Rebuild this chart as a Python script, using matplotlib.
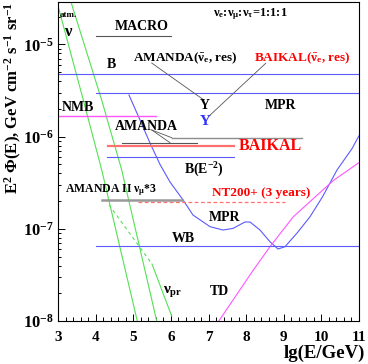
import matplotlib
matplotlib.use("Agg")
import matplotlib.pyplot as plt
from matplotlib.ticker import MultipleLocator, LogLocator, NullFormatter

plt.rcParams['font.family'] = ['Liberation Serif', 'DejaVu Serif']
plt.rcParams['font.weight'] = 'bold'
plt.rcParams['mathtext.fontset'] = 'custom'
plt.rcParams['mathtext.rm'] = 'Liberation Serif:bold'
plt.rcParams['mathtext.it'] = 'Liberation Serif:italic:bold'
plt.rcParams['mathtext.bf'] = 'Liberation Serif:bold'
plt.rcParams['mathtext.sf'] = 'Liberation Serif:bold'
plt.rcParams['mathtext.default'] = 'rm'

# atmospheric neutrinos (two bounds) and prompt
atm1_x = [3.00, 3.666, 4.156, 5.103]
atm1_y = [2.56e-5, 2.49e-6, 4.35e-7, 1.0e-8]
atm2_x = [3.338, 4.155, 4.688, 5.620]
atm2_y = [2.88e-5, 2.49e-6, 4.35e-7, 1.0e-8]
prompt_dash_x = [4.35, 5.494]
prompt_dash_y = [1.82e-7, 4.15e-8]
prompt_x = [5.494, 6.019]
prompt_y = [4.15e-8, 1.13e-8]

# MPR model
mpr_x = [4.882, 5.175, 5.441, 5.708, 5.974, 6.320, 6.586, 7.039, 7.385, 7.651, 7.970,
         8.104, 8.370, 8.636, 8.849, 9.036, 9.355, 9.701, 10.03, 10.42, 10.82, 11.0]
mpr_y = [2.825e-6, 1.514e-6, 8.53e-7, 4.99e-7, 3.22e-7, 2.06e-7, 1.41e-7, 1.055e-7, 9.70e-8,
         1.01e-7, 1.186e-7, 1.186e-7, 9.70e-8, 7.24e-8, 6.04e-8, 6.40e-8, 8.99e-8, 1.352e-7,
         2.21e-7, 4.345e-7, 7.41e-7, 1.014e-6]

# TD model
td_x = [7.273, 8.192, 8.636, 9.257, 9.746, 10.322, 11.0]
td_y = [1.0e-8, 3.57e-8, 6.40e-8, 1.352e-7, 2.05e-7, 3.34e-7, 5.21e-7]

# horizontal limits / bounds: (x from, x to), flux
macro_x, macro_y = [4.0, 6.0], 1.23e-5
b_x, b_y = [3.0, 11.0], 4.78e-6
mprb_x, mprb_y = [4.0, 11.0], 2.95e-6
nmb_x, nmb_y = [3.0, 5.6], 1.67e-6
amanda_hi_x, amanda_hi_y = [6.02, 9.49], 9.77e-7
amanda_lo_x, amanda_lo_y = [4.69, 6.685], 8.59e-7
baikal_x, baikal_y = [4.33, 7.68], 7.96e-7
be2_x, be2_y = [4.29, 7.68], 6.01e-7
amanda2_x, amanda2_y = [4.16, 6.29], 2.04e-7
nt200_x, nt200_y = [5.13, 9.04], 1.95e-7
wb_x, wb_y = [4.0, 11.0], 6.5e-8

green = '#55e055'
blue = '#5a5aff'
magenta = '#ff55ff'
gray = '#8c8c8c'
red = '#ff0000'

fig = plt.figure(figsize=(3.68, 3.64), dpi=100)
ax = fig.add_axes([0.1584, 0.1181, 0.8166, 0.8764])
ax.set_yscale('log')

ax.plot(atm1_x, atm1_y, color=green, lw=0.8)
ax.plot(atm2_x, atm2_y, color=green, lw=0.8)
ax.plot(prompt_dash_x, prompt_dash_y, color=green, lw=0.8, ls=(0, (3, 3)))
ax.plot(prompt_x, prompt_y, color=green, lw=0.8)

ax.plot(mpr_x, mpr_y, color=blue, lw=0.8)
ax.plot(td_x, td_y, color=magenta, lw=0.8)

ax.plot(macro_x, [macro_y] * 2, color='#555555', lw=0.8)
ax.plot(b_x, [b_y] * 2, color=blue, lw=0.8)
ax.plot(mprb_x, [mprb_y] * 2, color=blue, lw=0.8)
ax.plot(nmb_x, [nmb_y] * 2, color=magenta, lw=1.0)
ax.plot(amanda_hi_x, [amanda_hi_y] * 2, color=gray, lw=1.0)
ax.plot(amanda_lo_x, [amanda_lo_y] * 2, color='#555555', lw=0.8)
ax.plot(baikal_x, [baikal_y] * 2, color='#ff7070', lw=1.6)
ax.plot(be2_x, [be2_y] * 2, color=blue, lw=0.8)
ax.plot(amanda2_x, [amanda2_y] * 2, color='#999999', lw=1.8)
ax.plot(nt200_x, [nt200_y] * 2, color='#ff7070', lw=0.9, ls=(0, (3, 2)))
ax.plot(wb_x, [wb_y] * 2, color=blue, lw=0.8)

# pointer lines
ax.plot([5.487, 6.879], [6.28e-6, 2.49e-6], color='#555555', lw=0.6)
ax.plot([8.522, 7.012], [6.24e-6, 1.67e-6], color='#555555', lw=0.6)
ax.plot([5.487, 6.019], [1.18e-6, 9.73e-7], color='#555555', lw=0.6)
ax.plot([5.487, 5.974], [1.18e-6, 8.59e-7], color='#555555', lw=0.6)

# labels
ax.text(3.045, 2.11e-5, 'atm.', fontsize=6.5, va='center', ha='left')
ax.text(3.285, 1.36e-5, r'$\nu$', fontsize=12, va='center', ha='center')
ax.text(5.215, 1.55e-5, 'MACRO', fontsize=10, va='center', ha='center')
ax.text(8.10, 2.14e-5, r'$\nu_e$:$\nu_\mu$:$\nu_\tau$=1:1:1', fontsize=9, va='center', ha='center')
ax.text(4.403, 6.12e-6, 'B', fontsize=10, va='center', ha='center')
ax.text(4.99, 7.13e-6, r'AMANDA($\bar{\nu}_e$, res)', fontsize=9.5, va='center', ha='left')
ax.text(8.21, 7.13e-6, r'BAIKAL($\bar{\nu}_e$, res)', fontsize=9.5, va='center', ha='left',
        color=red)
ax.text(3.524, 2.07e-6, 'NMB', fontsize=10, va='center', ha='center')
ax.text(5.338, 1.30e-6, 'AMANDA', fontsize=10, va='center', ha='center')
ax.text(6.906, 2.20e-6, 'Y', fontsize=10, va='center', ha='center')
ax.text(6.919, 1.47e-6, 'Y', fontsize=11, va='center', ha='center', color='#3030ff')
ax.text(8.93, 2.20e-6, 'MPR', fontsize=10, va='center', ha='center')
ax.text(7.81, 7.91e-7, 'BAIKAL', fontsize=11.5, va='center', ha='left', color=red)
ax.text(6.352, 4.35e-7, r'B(E$^{-2}$)', fontsize=10, va='center', ha='left')
ax.text(3.18, 2.64e-7, r'AMANDA II $\nu_\mu$*3', fontsize=8.5, va='center', ha='left')
ax.text(8.41, 2.44e-7, 'NT200+ (3 years)', fontsize=9.5, va='center', ha='center', color=red)
ax.text(7.417, 1.31e-7, 'MPR', fontsize=10, va='center', ha='center')
ax.text(6.32, 7.85e-8, 'WB', fontsize=10, va='center', ha='center')
ax.text(6.04, 2.11e-8, r'$\nu_{pr}$', fontsize=11, va='center', ha='center')
ax.text(7.279, 2.11e-8, 'TD', fontsize=10, va='center', ha='center')

ax.set_xlim(3, 11)
ax.set_ylim(1e-8, 10 ** -4.54)
ax.xaxis.set_major_locator(MultipleLocator(1))
ax.xaxis.set_minor_locator(MultipleLocator(0.2))
ax.yaxis.set_major_locator(LogLocator(base=10, numticks=10))
ax.yaxis.set_minor_locator(LogLocator(base=10, subs=range(2, 10), numticks=20))
ax.yaxis.set_minor_formatter(NullFormatter())
ax.tick_params(which='both', direction='in', top=False, right=False, width=0.7)
ax.tick_params(axis='x', which='major', length=5, pad=7, labelsize=11)
ax.tick_params(axis='x', which='minor', length=3)
ax.tick_params(axis='y', which='major', length=5, pad=3, labelsize=12)
ax.tick_params(axis='y', which='minor', length=2.5)
for s in ax.spines.values():
    s.set_linewidth(0.8)

fig.text(358 / 368 + 0.02, 1 - 353 / 364, 'lg(E/GeV)', fontsize=13.5, ha='right', va='center')
fig.text(13 / 368, 1 - 2 / 364, r'E$^{2}$ $\Phi$(E), GeV cm$^{-2}$ s$^{-1}$ sr$^{-1}$',
         fontsize=12, rotation=90, ha='center', va='top')

fig.savefig('out.png', dpi=100)
